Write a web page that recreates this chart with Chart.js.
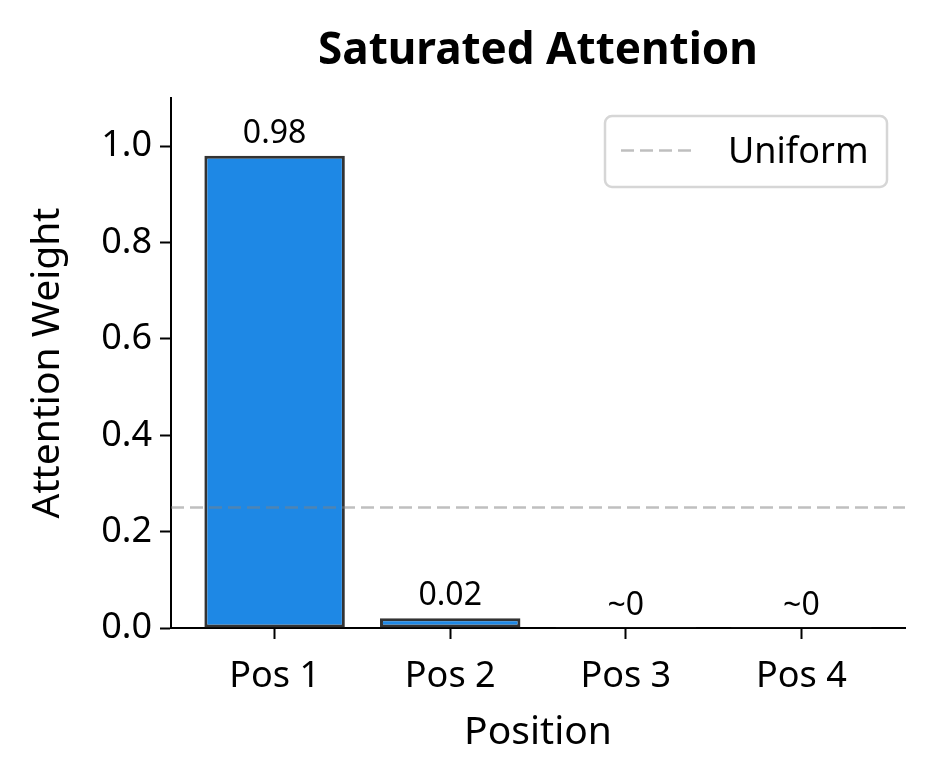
<!DOCTYPE html>
<html>
<head>
<meta charset="utf-8">
<script src="https://cdn.jsdelivr.net/npm/chart.js@4.4.1/dist/chart.umd.min.js"></script>
<style>
  html, body { margin: 0; padding: 0; background: #fff; }
  #chart { display: block; }
</style>
</head>
<body>
<canvas id="chart" width="934" height="784"></canvas>
<script>
const positions = ['Pos 1', 'Pos 2', 'Pos 3', 'Pos 4'];
const weights = [0.98, 0.02, 0.0001, 0.0001];
const barLabels = ['0.98', '0.02', '~0', '~0'];
const yTicks = [0, 0.2, 0.4, 0.6, 0.8, 1.0];
const uniformValue = 0.25;
const chartTitle = 'Saturated Attention';

const xMin = -0.59;
const xMax = 3.59;

Chart.defaults.font.family = "'Noto Sans', 'DejaVu Sans', sans-serif";
Chart.defaults.color = '#000';

// title centred over the plot area (not the whole canvas)
const plotTitle = {
  id: 'plotTitle',
  afterDraw(chart) {
    const ctx = chart.ctx;
    const area = chart.chartArea;
    ctx.save();
    ctx.font = "bold 44px 'Noto Sans', sans-serif";
    ctx.fillStyle = '#000';
    ctx.textAlign = 'center';
    ctx.textBaseline = 'middle';
    ctx.fillText(chartTitle, (area.left + area.right) / 2, 51);
    ctx.restore();
  }
};

// value labels above each bar
const barLabelPlugin = {
  id: 'barLabels',
  afterDatasetsDraw(chart) {
    const meta = chart.getDatasetMeta(1);
    const ctx = chart.ctx;
    ctx.save();
    ctx.font = "32px 'Noto Sans', sans-serif";
    ctx.fillStyle = '#000';
    ctx.textAlign = 'center';
    ctx.textBaseline = 'bottom';
    meta.data.forEach((bar, i) => {
      ctx.fillText(barLabels[i], bar.x, bar.y - 6);
    });
    ctx.restore();
  }
};

// legend box inside the plot, upper right
const insideLegend = {
  id: 'insideLegend',
  afterDraw(chart) {
    const ctx = chart.ctx;
    const area = chart.chartArea;
    const ds = chart.data.datasets[0];
    const w = 282, h = 71;
    const x = area.right - 18 - w;
    const y = area.top + 18;
    ctx.save();
    ctx.fillStyle = 'rgba(255,255,255,0.8)';
    ctx.strokeStyle = '#d6d6d6';
    ctx.lineWidth = 2.5;
    ctx.beginPath();
    ctx.roundRect(x, y, w, h, 7);
    ctx.fill();
    ctx.stroke();
    const cy = y + h / 2 - 1;
    ctx.strokeStyle = ds.borderColor;
    ctx.lineWidth = ds.borderWidth;
    ctx.setLineDash(ds.borderDash);
    ctx.beginPath();
    ctx.moveTo(x + 16, cy);
    ctx.lineTo(x + 90, cy);
    ctx.stroke();
    ctx.setLineDash([]);
    ctx.font = "36px 'Noto Sans', sans-serif";
    ctx.fillStyle = '#000';
    ctx.textAlign = 'left';
    ctx.textBaseline = 'middle';
    ctx.fillText(ds.label, x + 123, cy + 2);
    ctx.restore();
  }
};

new Chart(document.getElementById('chart'), {
  type: 'bar',
  data: {
    datasets: [
      {
        type: 'line',
        label: 'Uniform',
        data: [{ x: xMin, y: uniformValue }, { x: xMax, y: uniformValue }],
        borderColor: 'rgba(128,128,128,0.5)',
        borderWidth: 2.5,
        borderDash: [13, 6],
        pointRadius: 0,
        fill: false,
        order: 0
      },
      {
        label: 'Attention',
        data: weights.map((v, i) => ({ x: i, y: v })),
        backgroundColor: '#1E88E5',
        borderColor: '#333333',
        borderWidth: 3,
        borderSkipped: false,
        barPercentage: 1.0,
        categoryPercentage: 0.8,
        order: 1
      }
    ]
  },
  options: {
    responsive: false,
    devicePixelRatio: 1,
    animation: false,
    layout: { padding: { left: 0, right: 29, top: 98, bottom: 0 } },
    plugins: {
      legend: { display: false },
      tooltip: { enabled: false },
      title: { display: false }
    },
    scales: {
      x: {
        type: 'linear',
        min: xMin,
        max: xMax,
        offset: false,
        afterBuildTicks: s => { s.ticks = positions.map((p, i) => ({ value: i })); },
        afterFit: s => { s.height = 156; },
        ticks: {
          callback: v => positions[v],
          font: { size: 36 },
          color: '#000',
          padding: 16,
          maxRotation: 0
        },
        grid: {
          display: true,
          offset: false,
          drawOnChartArea: false,
          drawTicks: true,
          tickLength: 11,
          tickColor: '#000',
          tickWidth: 2
        },
        border: { display: true, color: '#000', width: 2 },
        title: {
          display: true,
          text: 'Position',
          font: { size: 39 },
          color: '#000',
          padding: { top: 0, bottom: 28 }
        }
      },
      y: {
        min: 0,
        max: 1.1,
        afterBuildTicks: s => { s.ticks = yTicks.map(v => ({ value: v })); },
        afterFit: s => { s.width = 171; },
        ticks: {
          callback: v => v.toFixed(1),
          font: { size: 36 },
          color: '#000',
          padding: 8
        },
        grid: {
          display: true,
          drawOnChartArea: false,
          drawTicks: true,
          tickLength: 11,
          tickColor: '#000',
          tickWidth: 2
        },
        border: { display: true, color: '#000', width: 2 },
        title: {
          display: true,
          text: 'Attention Weight',
          font: { size: 39 },
          color: '#000',
          padding: { top: 24, bottom: 0 }
        }
      }
    }
  },
  plugins: [plotTitle, barLabelPlugin, insideLegend]
});
</script>
</body>
</html>
